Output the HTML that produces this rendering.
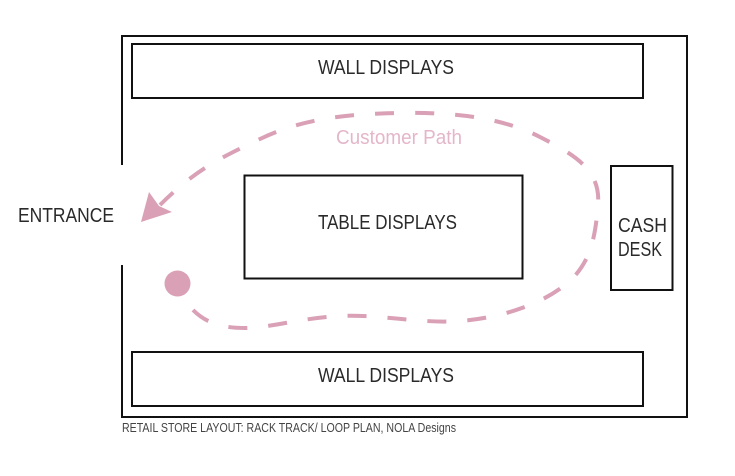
<!DOCTYPE html>
<html>
<head>
<meta charset="utf-8">
<style>
html,body{margin:0;padding:0;background:#fff;}
svg{display:block;}
text{font-family:"Liberation Sans",sans-serif;}
</style>
</head>
<body>
<svg width="735" height="476" viewBox="0 0 735 476" xmlns="http://www.w3.org/2000/svg">
  <rect x="0" y="0" width="735" height="476" fill="#fff"/>
  <!-- outer walls -->
  <g stroke="#111" stroke-width="2" fill="none">
    <polyline points="122,165 122,36 687,36 687,417 122,417 122,265"/>
    <rect x="132" y="44" width="511" height="54"/>
    <rect x="132" y="352" width="511" height="54"/>
    <rect x="244.5" y="175.5" width="278" height="103"/>
    <rect x="611" y="166" width="61.5" height="124"/>
  </g>
  <!-- labels -->
  <g fill="#2a2a2a" font-size="20">
    <text x="318" y="74" textLength="136" lengthAdjust="spacingAndGlyphs">WALL DISPLAYS</text>
    <text x="318" y="382" textLength="136" lengthAdjust="spacingAndGlyphs">WALL DISPLAYS</text>
    <text x="318" y="229" textLength="139" lengthAdjust="spacingAndGlyphs">TABLE DISPLAYS</text>
    <text x="18" y="222" textLength="96" lengthAdjust="spacingAndGlyphs">ENTRANCE</text>
    <text x="618" y="232" textLength="49" lengthAdjust="spacingAndGlyphs">CASH</text>
    <text x="618" y="256" textLength="44" lengthAdjust="spacingAndGlyphs">DESK</text>
  </g>
  <text x="336" y="144" font-size="20" fill="#e4b6c9" textLength="126" lengthAdjust="spacingAndGlyphs">Customer Path</text>
  <text x="122" y="432" font-size="12.5" fill="#444" textLength="334" lengthAdjust="spacingAndGlyphs">RETAIL STORE LAYOUT: RACK TRACK/ LOOP PLAN, NOLA Designs</text>
  <!-- customer path -->
  <circle cx="177.5" cy="283.5" r="13" fill="#d9a0b6"/>
  <path d="M193,310 C205,322 220,328 245,328 S300,318 340,316 S420,324 460,321 S540,305 565,285 S595,240 598,205 S575,155 540,137 S460,112 400,113 S300,120 260,139 S195,170 160,205"
        fill="none" stroke="#d9a0b6" stroke-width="4" stroke-dasharray="19 21"/>
  <polygon points="141,222 149,192 159,206 172,212" fill="#d9a0b6"/>
</svg>
</body>
</html>
